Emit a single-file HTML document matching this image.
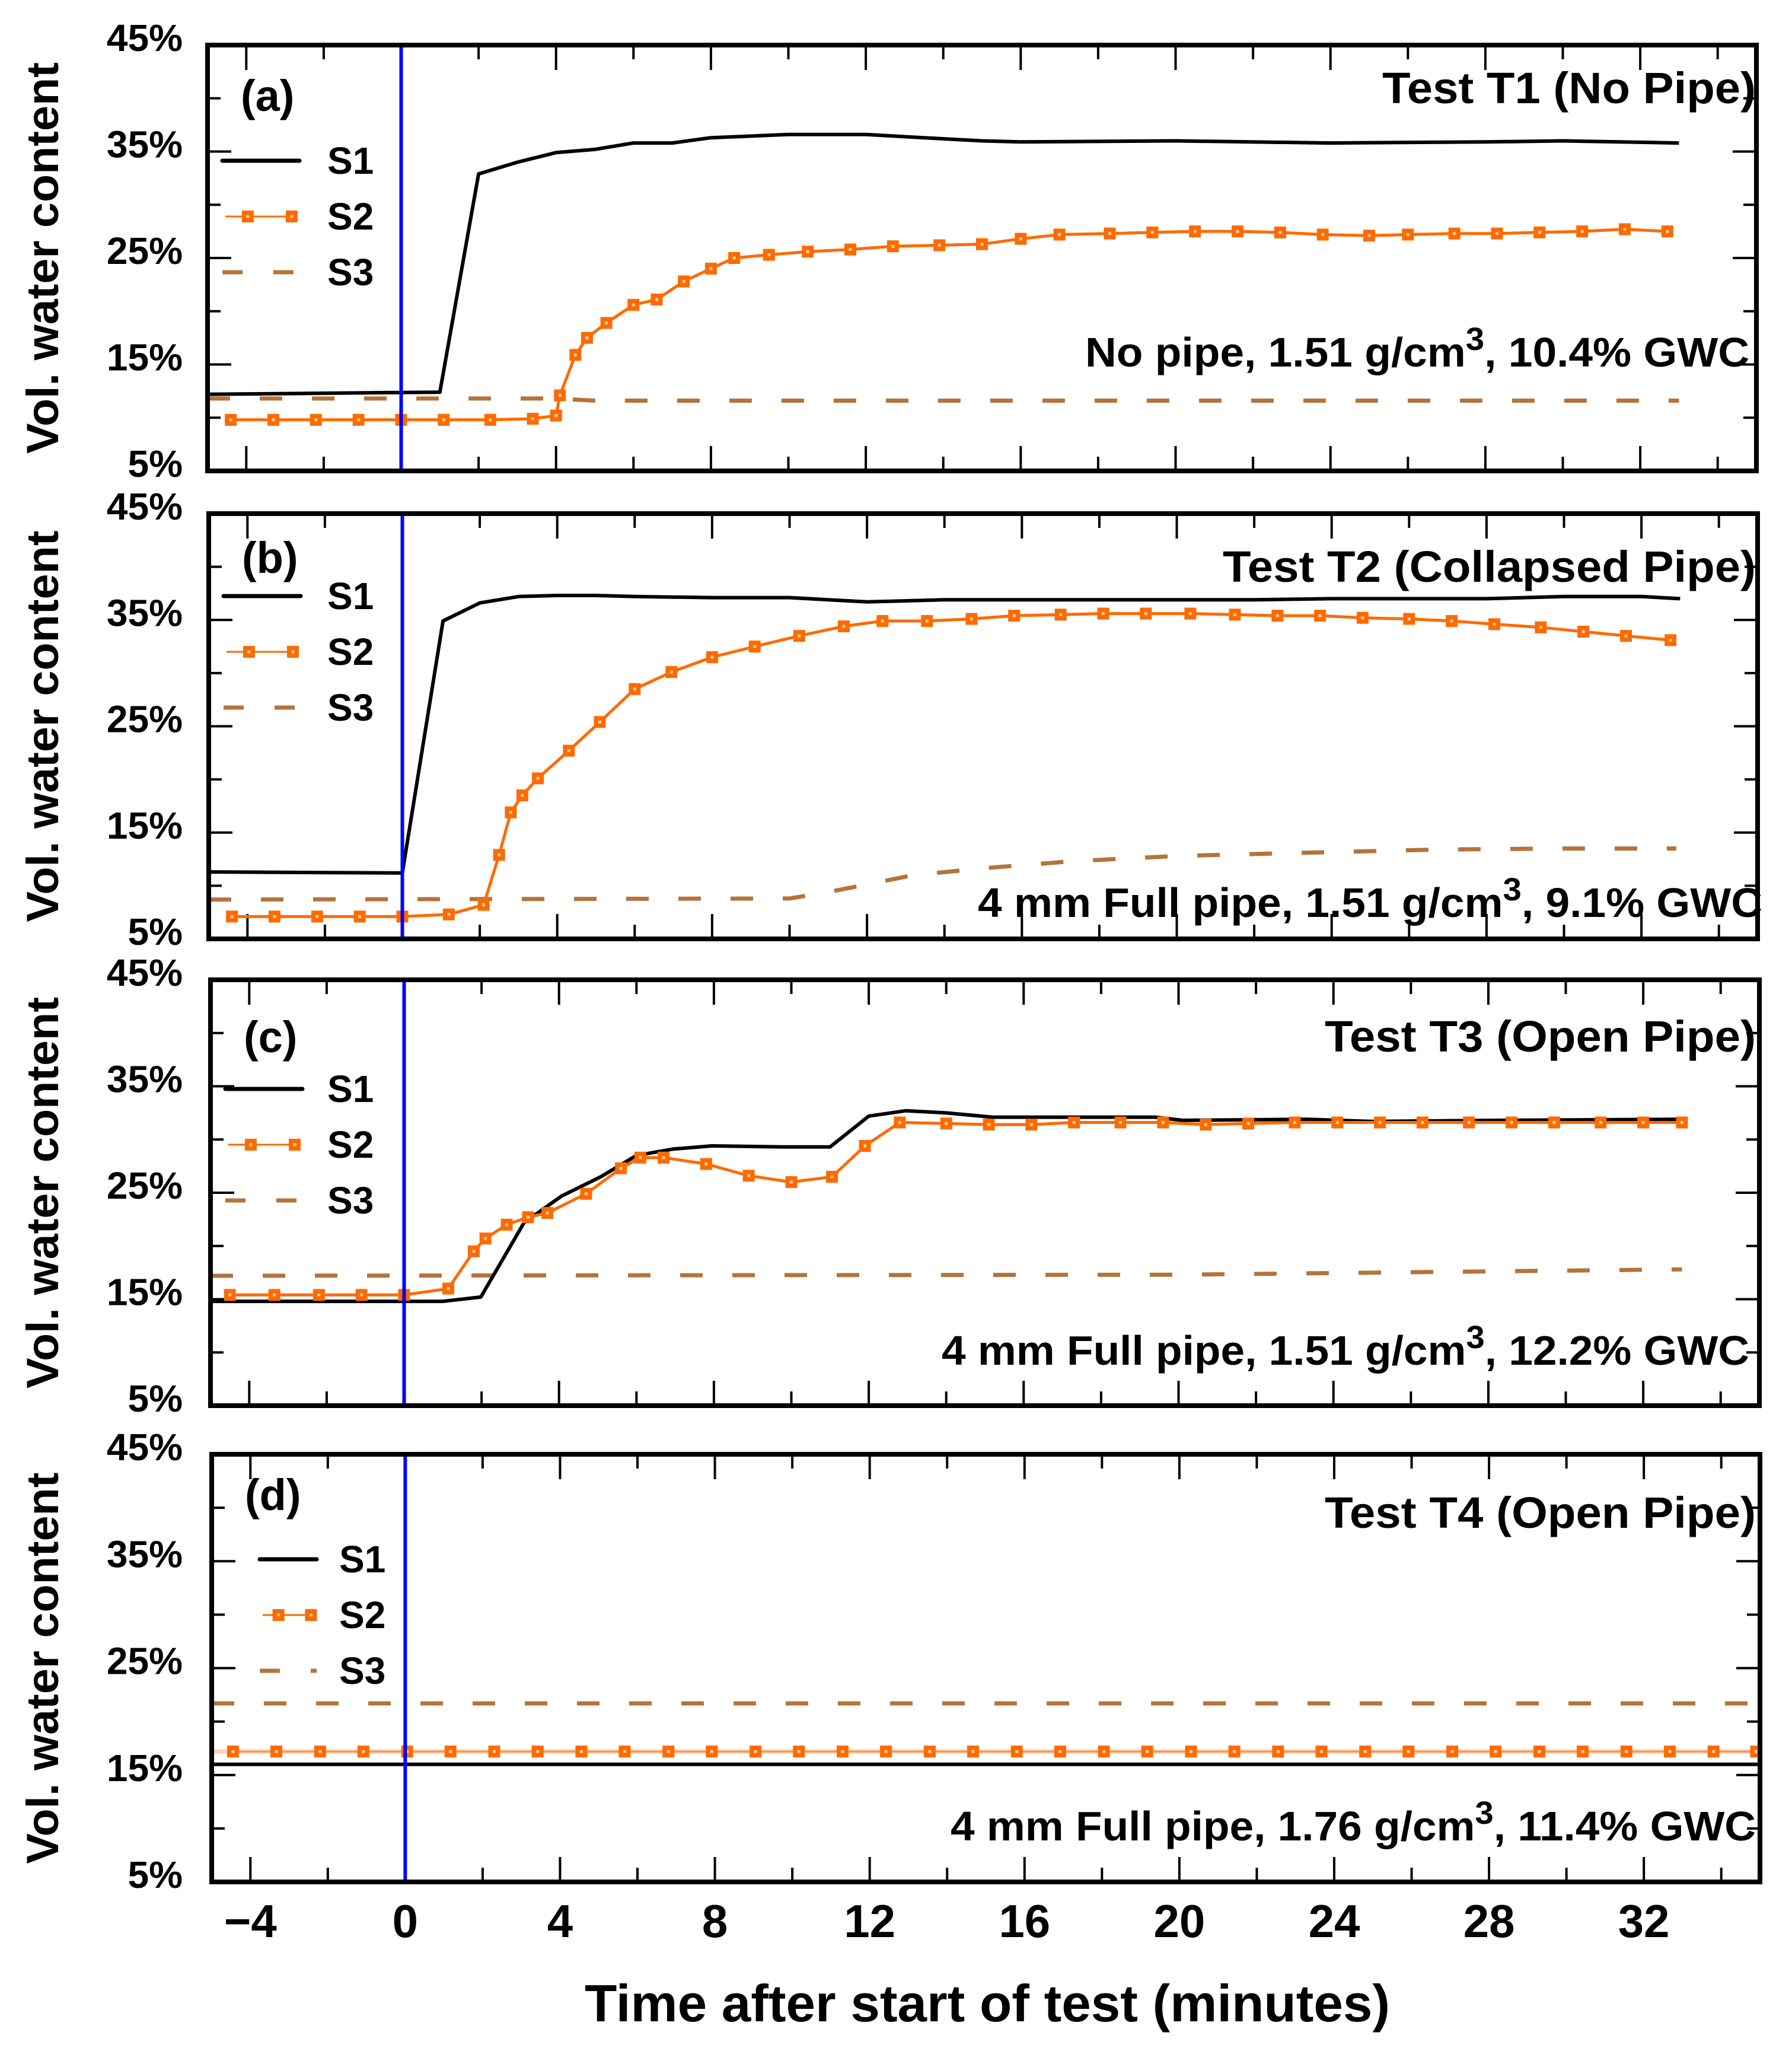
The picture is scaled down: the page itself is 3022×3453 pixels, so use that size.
<!DOCTYPE html>
<html><head><meta charset="utf-8"><style>
html,body{margin:0;padding:0;background:#fff}
svg{display:block}
text{font-family:"Liberation Sans",Arial,sans-serif;font-weight:bold;fill:#000}
</style></head><body>
<svg id="chart" width="3022" height="3453" viewBox="0 0 3022 3453" xmlns="http://www.w3.org/2000/svg">
<g id="root"></g>
<text x="1665" y="3408" font-size="88" text-anchor="middle" textLength="1358" lengthAdjust="spacingAndGlyphs">Time after start of test (minutes)</text>
</svg>
<script>
// ---- data ----
const xTickLabels = [-4,0,4,8,12,16,20,24,28,32];
const yTickLabels = [5,15,25,35,45];
const panelTitles = ["Test T1 (No Pipe)","Test T2 (Collapsed Pipe)","Test T3 (Open Pipe)","Test T4 (Open Pipe)"];
const panelLetters = ["(a)","(b)","(c)","(d)"];
const noteMain = ["No pipe, 1.51 g/cm","4 mm Full pipe, 1.51 g/cm","4 mm Full pipe, 1.51 g/cm","4 mm Full pipe, 1.76 g/cm"];
const noteTail = [", 10.4% GWC",", 9.1% GWC",", 12.2% GWC",", 11.4% GWC"];

const aS1x = [-5,1,2,3,4,5,6,7,8,10,12,14,15,16,20,24,28,30,33];
const aS1y = [12.2,12.4,32.9,34,34.9,35.2,35.8,35.8,36.3,36.6,36.6,36.2,36.0,35.9,36.0,35.8,35.9,36.0,35.8];
const aS2x = [-4.4,-3.3,-2.2,-1.1,0,1.1,2.3,3.4,4.0,4.1,4.5,4.8,5.3,6,6.6,7.3,8,8.6,9.5,10.5,11.6,12.7,13.9,15,16,17,18.3,19.4,20.5,21.6,22.7,23.8,25,26,27.2,28.3,29.4,30.5,31.6,32.7];
const aS2y = [9.8,9.8,9.8,9.8,9.8,9.8,9.8,9.9,10.2,12.1,15.9,17.5,18.9,20.6,21.1,22.8,24,25,25.3,25.6,25.8,26.1,26.2,26.3,26.8,27.2,27.3,27.4,27.5,27.5,27.4,27.2,27.1,27.2,27.3,27.3,27.4,27.5,27.7,27.5];
const aS3x = [-5,4,5,33];
const aS3y = [11.8,11.8,11.6,11.6];

const bS1x = [-5,0,1.05,2,3,4,5,6,8,10,12,14,18,22,24,28,30,32,33];
const bS1y = [11.3,11.2,34.9,36.6,37.2,37.3,37.3,37.2,37.1,37.1,36.7,36.9,36.9,36.9,37,37,37.2,37.2,37];
const bS2x = [-4.4,-3.3,-2.2,-1.1,0,1.2,2.1,2.5,2.8,3.1,3.5,4.3,5.1,6,6.95,8,9.1,10.25,11.4,12.4,13.55,14.7,15.8,17,18.1,19.2,20.35,21.5,22.6,23.7,24.8,26,27.1,28.2,29.4,30.5,31.6,32.75];
const bS2y = [7.1,7.1,7.1,7.1,7.1,7.3,8.2,12.9,16.9,18.5,20.1,22.7,25.4,28.5,30.1,31.5,32.5,33.5,34.4,34.9,34.9,35.1,35.4,35.5,35.6,35.6,35.6,35.5,35.4,35.4,35.2,35.1,34.9,34.6,34.3,33.9,33.5,33.1];
const bS3x = [-5,10,11,13.2,15.2,17.3,20,23.3,26.7,30,32.9];
const bS3y = [8.7,8.8,9.4,11,11.7,12.3,12.8,13.1,13.4,13.5,13.5];

const cS1x = [-5,1,1.98,3.1,4.07,5.08,6,6.94,7.95,9.8,11,12,12.95,14,15.2,17.6,19.4,20.1,23.3,24.98,28.3,33];
const cS1y = [14.8,14.8,15.2,22.2,24.7,26.5,28.5,29.1,29.4,29.3,29.3,32.2,32.7,32.5,32.1,32.1,32.1,31.8,31.9,31.7,31.8,31.9];
const cS2x = [-4.5,-3.35,-2.2,-1.1,0,1.14,1.8,2.1,2.65,3.2,3.7,4.7,5.6,6.1,6.7,7.8,8.9,10,11.05,11.9,12.8,14,15.1,16.2,17.3,18.5,19.6,20.7,21.8,23,24.1,25.2,26.3,27.5,28.6,29.7,30.9,32,33];
const cS2y = [15.4,15.4,15.4,15.4,15.4,16.0,19.5,20.7,22,22.7,23.1,24.9,27.3,28.3,28.3,27.7,26.6,26.0,26.5,29.4,31.6,31.5,31.4,31.4,31.6,31.6,31.6,31.4,31.5,31.6,31.6,31.6,31.6,31.6,31.6,31.6,31.6,31.6,31.6];
const cS3x = [-5,20,33];
const cS3y = [17.2,17.3,17.8];

const dS1x = [-5,35];
const dS1y = [16.0,16.0];
const dS2x = [-4.45,-3.33,-2.2,-1.08,0.05,1.17,2.3,3.42,4.55,5.67,6.8,7.92,9.05,10.17,11.3,12.42,13.55,14.67,15.8,16.92,18.05,19.17,20.3,21.42,22.55,23.67,24.8,25.92,27.05,28.17,29.3,30.42,31.55,32.67,33.8,34.9];
const dS2y = [17.2,17.2,17.2,17.2,17.2,17.2,17.2,17.2,17.2,17.2,17.2,17.2,17.2,17.2,17.2,17.2,17.2,17.2,17.2,17.2,17.2,17.2,17.2,17.2,17.2,17.2,17.2,17.2,17.2,17.2,17.2,17.2,17.2,17.2,17.2,17.2];
const dS3x = [-5,35];
const dS3y = [21.7,21.7];

const seriesSets = [
  [aS1x,aS1y,aS2x,aS2y,aS3x,aS3y],
  [bS1x,bS1y,bS2x,bS2y,bS3x,bS3y],
  [cS1x,cS1y,cS2x,cS2y,cS3x,cS3y],
  [dS1x,dS1y,dS2x,dS2y,dS3x,dS3y]
];

// ---- layout ----
const boxes = [
  {L:350,R:2962,T:76,B:794,leg:195,lab:84,legX:375,legW:130,txt:177},
  {L:352,R:2964,T:866,B:1583,leg:139,lab:73,legX:377,legW:130,txt:175},
  {L:355,R:2967,T:1652,B:2370,leg:184,lab:95,legX:380,legW:130,txt:172},
  {L:357,R:2968,T:2452,B:3173,leg:177,lab:67,legX:438,legW:96,txt:134}
];
const titleY=[174,981,1773,2576];
const titleX=[[2331,2961],[2062,2961],[2234,2961],[2234,2961]];
const noteY=[618,1546,2301,3103];
const noteX=[[1830,2950],[1649,2972],[1588,2950],[1603,2961]];
const XMIN=-5,XMAX=35,YMIN=5,YMAX=45;
const NS="http://www.w3.org/2000/svg";
const root=document.getElementById('root');
function mk(tag,attrs,parent){const e=document.createElementNS(NS,tag);for(const k in attrs)e.setAttribute(k,attrs[k]);(parent||root).appendChild(e);return e;}

boxes.forEach((b,i)=>{
  const g=mk('g',{});
  
  
  const sx=x=>b.L+(x-XMIN)/(XMAX-XMIN)*(b.R-b.L);
  const sy=v=>b.B-(v-YMIN)/(YMAX-YMIN)*(b.B-b.T);
  for(let v=5;v<=45;v+=5){
    const major=(v%10===5);
    const len=major?40:22;
    const y=sy(v);
    mk('line',{x1:b.L,x2:b.L+len,y1:y,y2:y,stroke:'#000','stroke-width':4},g);
    mk('line',{x1:b.R,x2:b.R-len,y1:y,y2:y,stroke:'#000','stroke-width':4},g);
  }
  yTickLabels.forEach(v=>{
    const t=mk('text',{x:308,y:sy(v)+10,'font-size':64,'text-anchor':'end'},g);
    
    
    t.textContent=v+'%';
  });
  for(let x=-4;x<=34;x+=2){
    const major=(x%4===0);
    const len=major?42:24;
    const xx=sx(x);
    mk('line',{x1:xx,x2:xx,y1:b.B,y2:b.B-len,stroke:'#000','stroke-width':4},g);
    mk('line',{x1:xx,x2:xx,y1:b.T,y2:b.T+len,stroke:'#000','stroke-width':4},g);
  }
  const yt=mk('text',{x:0,y:0,'font-size':76,'text-anchor':'middle',textLength:660,lengthAdjust:'spacingAndGlyphs',transform:`translate(98,${(b.T+b.B)/2}) rotate(-90)`},g);
  
  
  yt.textContent='Vol. water content';
  const [s1x,s1y,s2x,s2y,s3x,s3y]=seriesSets[i];
  const pts=(xs,ys)=>xs.map((x,k)=>sx(x).toFixed(1)+','+sy(ys[k]).toFixed(1)).join(' ');
  const l3=mk('polyline',{points:pts(s3x,s3y),fill:'none',stroke:'#b5733a','stroke-width':7,'stroke-dasharray':'38 50'},g);
  
  
  const l1=mk('polyline',{points:pts(s1x,s1y),fill:'none',stroke:'#000','stroke-width':6,'stroke-linejoin':'round'},g);
  
  
  const l2=mk('polyline',{points:pts(s2x,s2y),fill:'none',stroke:'#ff6a00','stroke-width':i===3?3:5,'stroke-linejoin':'round'},g);
  
  
  if(i===3){
    const hl=mk('line',{x1:b.L,x2:b.R,y1:sy(s2y[0]),y2:sy(s2y[0]),stroke:'#ffb080','stroke-width':7,opacity:0.6},g);
    
    
  }
  s2x.forEach((x,k)=>{
    const m=mk('rect',{x:sx(x)-10,y:sy(s2y[k])-10,width:20,height:20,fill:'#ff6a00'},g);
    
    
    mk('rect',{x:sx(x)-2.5,y:sy(s2y[k])-2.5,width:5,height:5,fill:'#ffd0a8'},g);
  });
  const bl=mk('line',{x1:sx(0),x2:sx(0),y1:b.T,y2:b.B,stroke:'#0000ff','stroke-width':6},g);
  
  
  const fr=mk('rect',{x:b.L,y:b.T,width:b.R-b.L,height:b.B-b.T,fill:'none',stroke:'#000','stroke-width':8},g);
  
  
  if(i===3){
    xTickLabels.forEach(x=>{
      const t=mk('text',{x:sx(x),y:3266,'font-size':78,'text-anchor':'middle'},g);
      
      
      t.textContent=(x<0?'\u2212':'')+Math.abs(x);
    });
  }
  const pl=mk('text',{x:b.L+56,y:b.T+b.lab+27,'font-size':74},g);
  
  
  pl.textContent=panelLetters[i];
  const tt=mk('text',{x:titleX[i][0],y:titleY[i],'font-size':74,textLength:titleX[i][1]-titleX[i][0],lengthAdjust:'spacingAndGlyphs'},g);
  
  
  tt.textContent=panelTitles[i];
  const nt=mk('text',{x:noteX[i][0],y:noteY[i],'font-size':70,textLength:noteX[i][1]-noteX[i][0],lengthAdjust:'spacingAndGlyphs'},g);
  
  
  const t1=mk('tspan',{},nt);t1.textContent=noteMain[i];
  const t2=mk('tspan',{dy:-28,'font-size':54},nt);t2.textContent='3';
  const t3=mk('tspan',{dy:28},nt);t3.textContent=noteTail[i];
  const lx=b.legX, ly=b.T+b.leg, w=b.legW;
  const lg=mk('g',{},g);
  
  
  mk('line',{x1:lx,x2:lx+w,y1:ly,y2:ly,stroke:'#000','stroke-width':7,'stroke-linecap':'round'},lg);
  mk('line',{x1:lx+5,x2:lx+w-5,y1:ly+94,y2:ly+94,stroke:'#ff6a00','stroke-width':3},lg);
  [lx+w*0.33,lx+w*0.9].forEach(mx=>{mk('rect',{x:mx-10,y:ly+84,width:20,height:20,fill:'#ff6a00'},lg);mk('rect',{x:mx-2.5,y:ly+91.5,width:5,height:5,fill:'#ffd0a8'},lg);});
  mk('line',{x1:lx,x2:lx+w,y1:ly+188,y2:ly+188,stroke:'#b5733a','stroke-width':7,'stroke-dasharray':'34 52'},lg);
  ['S1','S2','S3'].forEach((s,k)=>{
    const t=mk('text',{x:lx+b.txt,y:ly+k*94+22,'font-size':64},lg);
    
    
    t.textContent=s;
  });
});
</script>
</body></html>
